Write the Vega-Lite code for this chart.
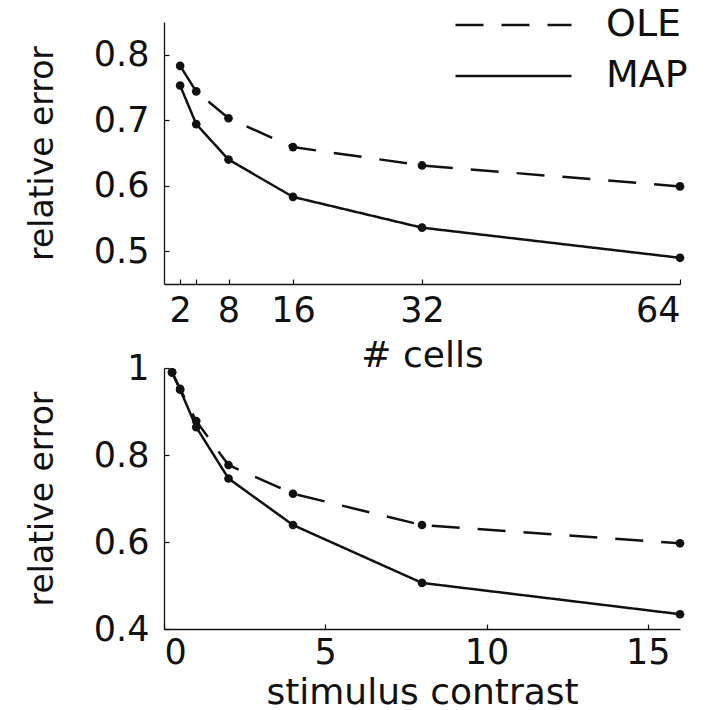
{
  "$schema": "https://vega.github.io/schema/vega-lite/v6.json",
  "background": "white",
  "padding": {"left": 26, "top": 6, "right": 0, "bottom": 0},
  "bounds": "flush",
  "spacing": 84,
  "datasets": {
    "cells": [
      {"cells": 2, "method": "OLE", "error": 0.783},
      {"cells": 4, "method": "OLE", "error": 0.744},
      {"cells": 8, "method": "OLE", "error": 0.703},
      {"cells": 16, "method": "OLE", "error": 0.659},
      {"cells": 32, "method": "OLE", "error": 0.631},
      {"cells": 64, "method": "OLE", "error": 0.599},
      {"cells": 2, "method": "MAP", "error": 0.753},
      {"cells": 4, "method": "MAP", "error": 0.694},
      {"cells": 8, "method": "MAP", "error": 0.640},
      {"cells": 16, "method": "MAP", "error": 0.583},
      {"cells": 32, "method": "MAP", "error": 0.536},
      {"cells": 64, "method": "MAP", "error": 0.490}
    ],
    "contrast": [
      {"contrast": 0.25, "method": "OLE", "error": 0.99},
      {"contrast": 0.5, "method": "OLE", "error": 0.952},
      {"contrast": 1, "method": "OLE", "error": 0.878},
      {"contrast": 2, "method": "OLE", "error": 0.777},
      {"contrast": 4, "method": "OLE", "error": 0.711},
      {"contrast": 8, "method": "OLE", "error": 0.639},
      {"contrast": 16, "method": "OLE", "error": 0.597},
      {"contrast": 0.25, "method": "MAP", "error": 0.99},
      {"contrast": 0.5, "method": "MAP", "error": 0.95},
      {"contrast": 1, "method": "MAP", "error": 0.864},
      {"contrast": 2, "method": "MAP", "error": 0.746},
      {"contrast": 4, "method": "MAP", "error": 0.639},
      {"contrast": 8, "method": "MAP", "error": 0.506},
      {"contrast": 16, "method": "MAP", "error": 0.434}
    ]
  },
  "config": {
    "view": {"stroke": null},
    "font": "DejaVu Sans",
    "axis": {
      "grid": false,
      "domainColor": "#111",
      "domainWidth": 1.3,
      "tickColor": "#111",
      "tickWidth": 1.2,
      "tickSize": -5,
      "labelFont": "DejaVu Sans",
      "labelFontSize": 35,
      "labelColor": "#111",
      "titleFont": "DejaVu Sans",
      "titleFontWeight": "normal",
      "titleColor": "#111"
    },
    "axisX": {"labelPadding": 14, "titleFontSize": 36, "titlePadding": 2},
    "axisY": {"labelPadding": 20, "titleFontSize": 33, "titlePadding": 34},
    "legend": {
      "labelFont": "DejaVu Sans",
      "labelFontSize": 38,
      "labelColor": "#111",
      "labelOffset": 73.5,
      "symbolType": "M-4,0H4",
      "symbolStrokeColor": "#111",
      "symbolStrokeWidth": 2.5,
      "symbolSize": 841,
      "rowPadding": 13,
      "padding": 0
    }
  },
  "vconcat": [
    {
      "width": 516,
      "height": 262,
      "data": {"name": "cells"},
      "layer": [
        {
          "mark": {"type": "line", "color": "#111", "strokeWidth": 2.5},
          "encoding": {
            "x": {"field": "cells", "type": "quantitative", "scale": {"domain": [0, 64], "nice": false},
                  "axis": {"title": "# cells", "titlePadding": 10, "values": [2, 4, 8, 16, 32, 64],
                           "labelExpr": "datum.value == 4 ? '' : datum.label"}},
            "y": {"field": "error", "type": "quantitative", "scale": {"domain": [0.45, 0.85], "nice": false, "zero": false},
                  "axis": {"title": "relative error", "values": [0.5, 0.6, 0.7, 0.8], "format": "~g"}},
            "strokeDash": {
              "field": "method", "type": "nominal",
              "scale": {"domain": ["OLE", "MAP"], "range": [[28, 18], [1, 0]]},
              "legend": {"title": null, "orient": "none", "legendX": 330.5, "legendY": -16}
            }
          }
        },
        {
          "mark": {"type": "point", "filled": true, "color": "#111", "opacity": 1, "size": 75},
          "encoding": {
            "x": {"field": "cells", "type": "quantitative"},
            "y": {"field": "error", "type": "quantitative"}
          }
        }
      ]
    },
    {
      "width": 516,
      "height": 261,
      "data": {"name": "contrast"},
      "layer": [
        {
          "mark": {"type": "line", "color": "#111", "strokeWidth": 2.5},
          "encoding": {
            "x": {"field": "contrast", "type": "quantitative", "scale": {"domain": [0, 16], "nice": false},
                  "axis": {"title": "stimulus contrast", "labelPadding": 11, "titlePadding": 5, "values": [0, 5, 10, 15]}},
            "y": {"field": "error", "type": "quantitative", "scale": {"domain": [0.4, 1.0], "nice": false, "zero": false},
                  "axis": {"title": "relative error", "values": [0.4, 0.6, 0.8, 1.0], "format": "~g"}},
            "strokeDash": {
              "field": "method", "type": "nominal",
              "scale": {"domain": ["OLE", "MAP"], "range": [[28, 18], [1, 0]]},
              "legend": null
            }
          }
        },
        {
          "mark": {"type": "point", "filled": true, "color": "#111", "opacity": 1, "size": 75},
          "encoding": {
            "x": {"field": "contrast", "type": "quantitative"},
            "y": {"field": "error", "type": "quantitative"}
          }
        }
      ]
    }
  ]
}
